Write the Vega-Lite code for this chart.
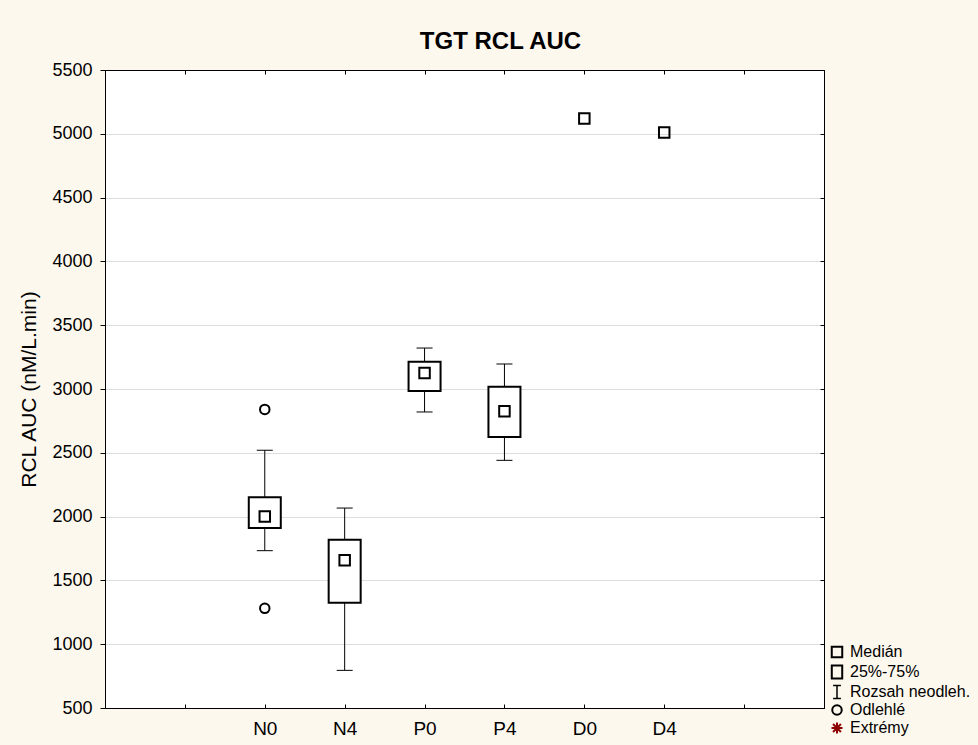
{
  "$schema": "https://vega.github.io/schema/vega-lite/v6.json",
  "width": 719,
  "height": 638,
  "autosize": "none",
  "padding": {"left": 105, "top": 70, "right": 154, "bottom": 37},
  "background": "#FDF8ED",
  "title": {"text": "TGT RCL AUC", "fontSize": 24, "fontWeight": "bold", "font": "Liberation Sans", "color": "black", "anchor": "middle", "dx": 36, "offset": 7},
  "config": {
    "view": {"fill": "white", "stroke": "black", "strokeWidth": 1},
    "font": "Liberation Sans",
    "legend": {
      "orient": "none",
      "legendX": 724,
      "legendY": 574,
      "padding": 0,
      "labelFontSize": 16,
      "labelFont": "Liberation Sans",
      "labelColor": "black",
      "labelOffset": 5,
      "rowPadding": -1,
      "symbolFillColor": "transparent",
      "symbolOpacity": 1
    }
  },
  "datasets": {
    "boxes": [
      {"grp": "N0", "lo": 1733, "q1": 1911, "q3": 2151, "hi": 2520},
      {"grp": "N4", "lo": 795, "q1": 1325, "q3": 1819, "hi": 2067},
      {"grp": "P0", "lo": 2820, "q1": 2984, "q3": 3214, "hi": 3321},
      {"grp": "P4", "lo": 2441, "q1": 2624, "q3": 3018, "hi": 3196}
    ],
    "points": [
      {"grp": "N0", "value": 2000, "kind": "Medián"},
      {"grp": "N4", "value": 1657, "kind": "Medián"},
      {"grp": "P0", "value": 3125, "kind": "Medián"},
      {"grp": "P4", "value": 2825, "kind": "Medián"},
      {"grp": "D0", "value": 5120, "kind": "Medián"},
      {"grp": "D4", "value": 5010, "kind": "Medián"},
      {"grp": "N0", "value": 2840, "kind": "Odlehlé"},
      {"grp": "N0", "value": 1281, "kind": "Odlehlé"}
    ]
  },
  "layer": [
    {
      "data": {"name": "boxes"},
      "mark": {"type": "rule", "color": "black", "strokeWidth": 1},
      "encoding": {
        "x": {"field": "grp", "type": "nominal",
          "scale": {"type": "point", "domain": [" ", "  ", "N0", "N4", "P0", "P4", "D0", "D4", "   ", "    "], "padding": 0},
          "axis": {"orient": "bottom", "title": null, "labelFontSize": 19, "labelFont": "Liberation Sans", "labelColor": "black", "labelAngle": 0, "labelPadding": 15, "tickSize": -4, "tickColor": "black", "domainColor": "black", "grid": false}},
        "y": {"field": "lo", "type": "quantitative",
          "scale": {"domain": [500, 5500], "nice": false, "zero": false},
          "axis": {"orient": "left", "title": "RCL AUC (nM/L.min)", "titleFont": "Liberation Sans", "titleFontSize": 21, "titleFontWeight": "normal", "titleColor": "black", "titlePadding": 12,
            "labelFontSize": 18, "labelFont": "Liberation Sans", "labelColor": "black", "labelPadding": 8, "format": "d", "tickSize": 5, "tickColor": "black", "domainColor": "black",
            "grid": true, "gridColor": "#DDDDDD", "values": [500, 1000, 1500, 2000, 2500, 3000, 3500, 4000, 4500, 5000, 5500]}},
        "y2": {"field": "hi"}
      }
    },
    {
      "data": {"name": "boxes"},
      "mark": {"type": "tick", "orient": "horizontal", "size": 16, "thickness": 1, "color": "black", "opacity": 1},
      "encoding": {
        "x": {"field": "grp", "type": "nominal",
          "axis": {"orient": "top", "labels": false, "title": null, "tickSize": -4, "tickColor": "black", "domainColor": "black", "grid": false}},
        "y": {"field": "lo", "type": "quantitative",
          "axis": {"orient": "right", "labels": false, "title": null, "tickSize": -4, "tickColor": "black", "domainColor": "black", "grid": false, "values": [500, 1000, 1500, 2000, 2500, 3000, 3500, 4000, 4500, 5000, 5500]}}
      }
    },
    {
      "data": {"name": "boxes"},
      "mark": {"type": "tick", "orient": "horizontal", "size": 16, "thickness": 1, "color": "black", "opacity": 1},
      "encoding": {
        "x": {"field": "grp", "type": "nominal", "axis": null},
        "y": {"field": "hi", "type": "quantitative", "axis": null}
      }
    },
    {
      "data": {"name": "boxes"},
      "mark": {"type": "bar", "width": 32, "fill": "white", "stroke": "black", "strokeWidth": 2},
      "encoding": {
        "x": {"field": "grp", "type": "nominal", "axis": null},
        "y": {"field": "q1", "type": "quantitative", "axis": null},
        "y2": {"field": "q3"}
      }
    },
    {
      "data": {"name": "points"},
      "mark": {"type": "point", "filled": false, "opacity": 1},
      "encoding": {
        "x": {"field": "grp", "type": "nominal", "axis": null},
        "y": {"field": "value", "type": "quantitative", "axis": null},
        "shape": {"field": "kind", "type": "nominal",
          "scale": {"domain": ["Medián", "25%-75%", "Rozsah neodleh.", "Odlehlé", "Extrémy"],
            "range": ["square", "M-0.8,-1H0.8V1H-0.8Z", "M-0.6,-1H0.6M0,-1V1M-0.6,1H0.6", "circle", "M-1,0H1M0,-1V1M-0.72,-0.72L0.72,0.72M-0.72,0.72L0.72,-0.72"]},
          "legend": {"title": null}},
        "size": {"field": "kind", "type": "nominal",
          "scale": {"type": "ordinal", "domain": ["Medián", "25%-75%", "Rozsah neodleh.", "Odlehlé", "Extrémy"], "range": [110, 170, 169, 90, 121]},
          "legend": {"title": null}},
        "stroke": {"field": "kind", "type": "nominal",
          "scale": {"domain": ["Medián", "25%-75%", "Rozsah neodleh.", "Odlehlé", "Extrémy"], "range": ["black", "black", "black", "black", "#8B0000"]},
          "legend": {"title": null}},
        "strokeWidth": {"field": "kind", "type": "nominal",
          "scale": {"type": "ordinal", "domain": ["Medián", "25%-75%", "Rozsah neodleh.", "Odlehlé", "Extrémy"], "range": [2, 2, 1.5, 2, 2]},
          "legend": {"title": null}}
      }
    }
  ],
  "resolve": {"axis": {"x": "independent", "y": "independent"}}
}
